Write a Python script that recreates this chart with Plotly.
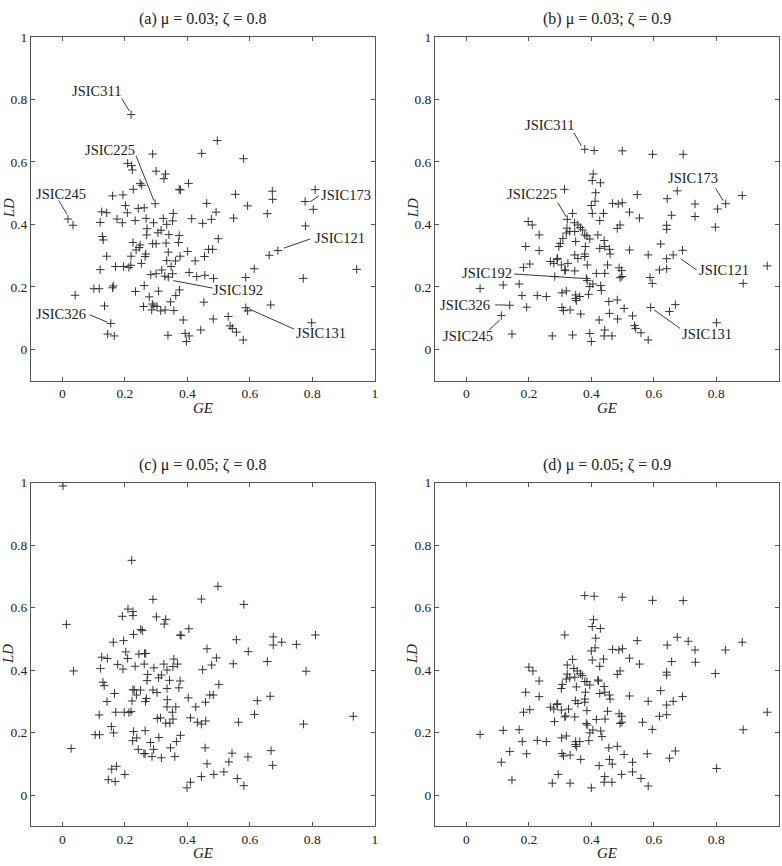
import plotly.graph_objects as go

# ---------------- data (GE, LD) ----------------
a_points = [
    (0.220, 0.751), (0.289, 0.625), (0.209, 0.595), (0.222, 0.588), (0.224, 0.574), (0.300, 0.570),
    (0.330, 0.561), (0.325, 0.546), (0.404, 0.531), (0.249, 0.531), (0.254, 0.525), (0.227, 0.512),
    (0.374, 0.512), (0.378, 0.510), (0.161, 0.491), (0.194, 0.494), (0.297, 0.466), (0.202, 0.460),
    (0.208, 0.437), (0.243, 0.451), (0.262, 0.453), (0.126, 0.440), (0.142, 0.437), (0.355, 0.435),
    (0.018, 0.417), (0.034, 0.397), (0.121, 0.406), (0.175, 0.417), (0.192, 0.405), (0.233, 0.412),
    (0.268, 0.419), (0.292, 0.405), (0.323, 0.419), (0.353, 0.411), (0.334, 0.400), (0.414, 0.418),
    (0.271, 0.386), (0.306, 0.373), (0.316, 0.381), (0.270, 0.366), (0.341, 0.367), (0.374, 0.364),
    (0.128, 0.361), (0.131, 0.350), (0.226, 0.342), (0.249, 0.334), (0.246, 0.326), (0.289, 0.338),
    (0.300, 0.338), (0.332, 0.340), (0.372, 0.342), (0.236, 0.318), (0.267, 0.305), (0.265, 0.297),
    (0.339, 0.311), (0.401, 0.313), (0.142, 0.298), (0.220, 0.298), (0.377, 0.298), (0.362, 0.283),
    (0.334, 0.284), (0.425, 0.283), (0.253, 0.275), (0.121, 0.255), (0.170, 0.265), (0.196, 0.265),
    (0.213, 0.262), (0.219, 0.269), (0.348, 0.265), (0.406, 0.246), (0.430, 0.233), (0.283, 0.239),
    (0.300, 0.242), (0.318, 0.254), (0.328, 0.234), (0.339, 0.231), (0.353, 0.242), (0.101, 0.194),
    (0.118, 0.194), (0.163, 0.203), (0.161, 0.197), (0.262, 0.204), (0.234, 0.185), (0.308, 0.186),
    (0.375, 0.190), (0.363, 0.172), (0.041, 0.173), (0.278, 0.168), (0.346, 0.152), (0.135, 0.139),
    (0.260, 0.137), (0.288, 0.145), (0.293, 0.139), (0.303, 0.137), (0.286, 0.126), (0.315, 0.123),
    (0.329, 0.126), (0.357, 0.124), (0.155, 0.083), (0.387, 0.094), (0.145, 0.049), (0.166, 0.043),
    (0.338, 0.045), (0.393, 0.051), (0.406, 0.043), (0.397, 0.025),
    (0.496, 0.668), (0.446, 0.627), (0.580, 0.610), (0.554, 0.496), (0.672, 0.506), (0.673, 0.480),
    (0.809, 0.511), (0.777, 0.473), (0.803, 0.448), (0.462, 0.467), (0.593, 0.459), (0.492, 0.439),
    (0.477, 0.416), (0.548, 0.420), (0.656, 0.434), (0.449, 0.403), (0.778, 0.395), (0.499, 0.354),
    (0.468, 0.320), (0.481, 0.320), (0.455, 0.297), (0.690, 0.316), (0.662, 0.301), (0.614, 0.258),
    (0.942, 0.256), (0.456, 0.237), (0.484, 0.227), (0.587, 0.230), (0.771, 0.227), (0.453, 0.151),
    (0.587, 0.133), (0.593, 0.123), (0.667, 0.142), (0.483, 0.097), (0.531, 0.105), (0.537, 0.075),
    (0.544, 0.067), (0.557, 0.055), (0.579, 0.030), (0.443, 0.062), (0.798, 0.085),
]

b_points = [
    (0.379, 0.640), (0.409, 0.636), (0.406, 0.561), (0.403, 0.540), (0.429, 0.533), (0.314, 0.512),
    (0.414, 0.501), (0.412, 0.474), (0.400, 0.460), (0.403, 0.435), (0.439, 0.435), (0.340, 0.435),
    (0.323, 0.416), (0.427, 0.412), (0.198, 0.409), (0.211, 0.398), (0.346, 0.405), (0.357, 0.398),
    (0.365, 0.390), (0.372, 0.382), (0.322, 0.388), (0.320, 0.372), (0.331, 0.377), (0.347, 0.377),
    (0.379, 0.366), (0.386, 0.363), (0.395, 0.353), (0.421, 0.366), (0.233, 0.366), (0.309, 0.355),
    (0.350, 0.345), (0.441, 0.348), (0.190, 0.329), (0.301, 0.339), (0.296, 0.329), (0.381, 0.329),
    (0.427, 0.323), (0.443, 0.329), (0.233, 0.316), (0.347, 0.302), (0.357, 0.291), (0.379, 0.297),
    (0.379, 0.305), (0.269, 0.281), (0.280, 0.275), (0.290, 0.288), (0.292, 0.291), (0.304, 0.270),
    (0.325, 0.275), (0.387, 0.270), (0.183, 0.262), (0.203, 0.273), (0.283, 0.233), (0.315, 0.252),
    (0.317, 0.254), (0.347, 0.251), (0.416, 0.243), (0.443, 0.243), (0.384, 0.227), (0.387, 0.220),
    (0.395, 0.201), (0.405, 0.209), (0.430, 0.204), (0.044, 0.195), (0.118, 0.206), (0.169, 0.209),
    (0.320, 0.187), (0.306, 0.181), (0.432, 0.188), (0.178, 0.172), (0.227, 0.172), (0.256, 0.169),
    (0.350, 0.174), (0.349, 0.163), (0.352, 0.156), (0.363, 0.169), (0.391, 0.176), (0.139, 0.141),
    (0.193, 0.135), (0.306, 0.134), (0.311, 0.124), (0.332, 0.126), (0.366, 0.113), (0.425, 0.094),
    (0.112, 0.108), (0.146, 0.049), (0.275, 0.043), (0.340, 0.046), (0.395, 0.051), (0.400, 0.025),
    (0.443, 0.062), (0.441, 0.043),
    (0.499, 0.635), (0.596, 0.624), (0.694, 0.624), (0.547, 0.495), (0.675, 0.507), (0.643, 0.482),
    (0.883, 0.492), (0.468, 0.467), (0.486, 0.465), (0.499, 0.469), (0.732, 0.465), (0.804, 0.449),
    (0.830, 0.466), (0.522, 0.439), (0.554, 0.420), (0.657, 0.429), (0.732, 0.425), (0.483, 0.387),
    (0.492, 0.398), (0.641, 0.397), (0.641, 0.384), (0.797, 0.391), (0.458, 0.320), (0.460, 0.305),
    (0.522, 0.318), (0.622, 0.337), (0.582, 0.302), (0.641, 0.290), (0.662, 0.302), (0.692, 0.317),
    (0.452, 0.270), (0.489, 0.261), (0.497, 0.252), (0.492, 0.229), (0.498, 0.233), (0.618, 0.254),
    (0.641, 0.258), (0.588, 0.230), (0.595, 0.211), (0.963, 0.267), (0.886, 0.211), (0.456, 0.153),
    (0.483, 0.158), (0.505, 0.131), (0.458, 0.115), (0.484, 0.097), (0.532, 0.107), (0.590, 0.134),
    (0.650, 0.121), (0.669, 0.143), (0.538, 0.076), (0.542, 0.067), (0.559, 0.053), (0.582, 0.030),
    (0.466, 0.043), (0.801, 0.085),
]

c_points = [
    (0.002, 0.989), (0.222, 0.751), (0.013, 0.546), (0.290, 0.626), (0.210, 0.595), (0.226, 0.587),
    (0.226, 0.574), (0.192, 0.572), (0.301, 0.570), (0.331, 0.562), (0.326, 0.547), (0.405, 0.532),
    (0.251, 0.530), (0.256, 0.526), (0.228, 0.514), (0.377, 0.512), (0.380, 0.511), (0.163, 0.489),
    (0.196, 0.494), (0.203, 0.458), (0.209, 0.437), (0.245, 0.451), (0.263, 0.453), (0.267, 0.453),
    (0.126, 0.441), (0.144, 0.437), (0.357, 0.435), (0.036, 0.397), (0.122, 0.405), (0.177, 0.418),
    (0.194, 0.403), (0.233, 0.412), (0.262, 0.419), (0.293, 0.407), (0.325, 0.419), (0.354, 0.411),
    (0.369, 0.419), (0.335, 0.400), (0.273, 0.386), (0.308, 0.375), (0.317, 0.384), (0.271, 0.366),
    (0.343, 0.367), (0.377, 0.365), (0.130, 0.361), (0.134, 0.350), (0.226, 0.337), (0.230, 0.336),
    (0.250, 0.336), (0.237, 0.320), (0.290, 0.336), (0.303, 0.328), (0.335, 0.341), (0.373, 0.343),
    (0.167, 0.325), (0.269, 0.309), (0.266, 0.299), (0.336, 0.305), (0.403, 0.311), (0.143, 0.299),
    (0.223, 0.301), (0.427, 0.282), (0.335, 0.282), (0.363, 0.282), (0.352, 0.265), (0.118, 0.256),
    (0.171, 0.265), (0.198, 0.265), (0.213, 0.264), (0.220, 0.267), (0.410, 0.247), (0.432, 0.233),
    (0.304, 0.245), (0.314, 0.247), (0.331, 0.230), (0.344, 0.230), (0.354, 0.243), (0.157, 0.219),
    (0.164, 0.199), (0.105, 0.193), (0.119, 0.193), (0.228, 0.203), (0.265, 0.206), (0.238, 0.183),
    (0.225, 0.174), (0.309, 0.184), (0.378, 0.191), (0.365, 0.171), (0.282, 0.168), (0.028, 0.149),
    (0.346, 0.151), (0.243, 0.146), (0.261, 0.133), (0.265, 0.132), (0.292, 0.146), (0.287, 0.123),
    (0.317, 0.119), (0.360, 0.123), (0.158, 0.083), (0.173, 0.092), (0.200, 0.066), (0.147, 0.049),
    (0.169, 0.043), (0.399, 0.023), (0.410, 0.041),
    (0.498, 0.668), (0.445, 0.627), (0.581, 0.610), (0.557, 0.497), (0.675, 0.506), (0.675, 0.480),
    (0.702, 0.489), (0.749, 0.482), (0.810, 0.512), (0.463, 0.468), (0.595, 0.459), (0.493, 0.439),
    (0.478, 0.416), (0.547, 0.420), (0.656, 0.427), (0.449, 0.401), (0.780, 0.396), (0.501, 0.354),
    (0.472, 0.320), (0.483, 0.320), (0.458, 0.297), (0.665, 0.316), (0.624, 0.302), (0.615, 0.258),
    (0.931, 0.252), (0.459, 0.237), (0.445, 0.227), (0.564, 0.233), (0.772, 0.227), (0.457, 0.151),
    (0.543, 0.134), (0.668, 0.142), (0.594, 0.122), (0.463, 0.100), (0.533, 0.106), (0.673, 0.095),
    (0.445, 0.059), (0.485, 0.066), (0.517, 0.074), (0.560, 0.053), (0.581, 0.030),
]

d_points = [
    (0.379, 0.638), (0.409, 0.636), (0.407, 0.561), (0.403, 0.539), (0.429, 0.533), (0.315, 0.512),
    (0.414, 0.502), (0.412, 0.471), (0.400, 0.461), (0.403, 0.432), (0.439, 0.435), (0.340, 0.434),
    (0.323, 0.416), (0.427, 0.412), (0.200, 0.409), (0.213, 0.397), (0.344, 0.405), (0.355, 0.397),
    (0.365, 0.388), (0.371, 0.382), (0.323, 0.387), (0.320, 0.371), (0.331, 0.375), (0.347, 0.377),
    (0.379, 0.363), (0.386, 0.363), (0.395, 0.352), (0.421, 0.368), (0.423, 0.365), (0.233, 0.365),
    (0.307, 0.354), (0.304, 0.341), (0.352, 0.346), (0.443, 0.329), (0.190, 0.329), (0.381, 0.329),
    (0.427, 0.325), (0.233, 0.315), (0.349, 0.302), (0.357, 0.293), (0.379, 0.307), (0.379, 0.297),
    (0.269, 0.281), (0.280, 0.275), (0.290, 0.290), (0.292, 0.292), (0.304, 0.272), (0.327, 0.275),
    (0.386, 0.270), (0.183, 0.265), (0.203, 0.273), (0.282, 0.235), (0.315, 0.250), (0.318, 0.253),
    (0.347, 0.250), (0.416, 0.242), (0.444, 0.243), (0.384, 0.229), (0.387, 0.224), (0.395, 0.199),
    (0.405, 0.208), (0.430, 0.205), (0.044, 0.194), (0.118, 0.207), (0.169, 0.209), (0.320, 0.189),
    (0.305, 0.183), (0.434, 0.187), (0.179, 0.171), (0.227, 0.175), (0.256, 0.171), (0.350, 0.171),
    (0.349, 0.162), (0.352, 0.155), (0.363, 0.171), (0.392, 0.174), (0.139, 0.139), (0.193, 0.132),
    (0.306, 0.133), (0.311, 0.125), (0.332, 0.128), (0.366, 0.114), (0.425, 0.094), (0.112, 0.105),
    (0.146, 0.048), (0.294, 0.066), (0.275, 0.038), (0.332, 0.038), (0.400, 0.023), (0.443, 0.059),
    (0.441, 0.041),
    (0.499, 0.633), (0.596, 0.623), (0.694, 0.622), (0.547, 0.494), (0.675, 0.505), (0.710, 0.492),
    (0.643, 0.480), (0.883, 0.489), (0.468, 0.466), (0.488, 0.464), (0.500, 0.468), (0.732, 0.464),
    (0.829, 0.464), (0.522, 0.438), (0.554, 0.419), (0.657, 0.427), (0.733, 0.425), (0.483, 0.386),
    (0.492, 0.397), (0.641, 0.393), (0.641, 0.384), (0.797, 0.389), (0.441, 0.347), (0.458, 0.320),
    (0.460, 0.307), (0.522, 0.317), (0.622, 0.334), (0.582, 0.300), (0.641, 0.288), (0.662, 0.300),
    (0.692, 0.315), (0.452, 0.268), (0.489, 0.260), (0.497, 0.252), (0.492, 0.229), (0.498, 0.233),
    (0.618, 0.252), (0.641, 0.257), (0.564, 0.233), (0.595, 0.210), (0.963, 0.265), (0.886, 0.209),
    (0.456, 0.151), (0.483, 0.156), (0.505, 0.130), (0.458, 0.114), (0.467, 0.099), (0.532, 0.105),
    (0.579, 0.132), (0.650, 0.118), (0.669, 0.141), (0.532, 0.074), (0.559, 0.053), (0.582, 0.029),
    (0.497, 0.066), (0.466, 0.041), (0.801, 0.085),
]

titles = ["(a) μ = 0.03; ζ = 0.8", "(b) μ = 0.03; ζ = 0.9",
          "(c) μ = 0.05; ζ = 0.8", "(d) μ = 0.05; ζ = 0.9"]
tick_vals = [0, 0.2, 0.4, 0.6, 0.8, 1]
tick_text = ["0", "0.2", "0.4", "0.6", "0.8", "1"]

# industry labels: (name, text_x, text_y, leader x0, y0, x1, y1) in data units
a_labels = [
    ("JSIC311", 0.108, 0.828, 0.190, 0.803, 0.214, 0.763),
    ("JSIC225", 0.153, 0.638, 0.236, 0.619, 0.293, 0.476),
    ("JSIC245", -0.005, 0.497, -0.011, 0.476, 0.014, 0.433),
    ("JSIC326", -0.005, 0.113, 0.089, 0.110, 0.144, 0.087),
    ("JSIC173", 0.908, 0.494, 0.793, 0.472, 0.821, 0.491),
    ("JSIC121", 0.888, 0.355, 0.709, 0.324, 0.793, 0.353),
    ("JSIC192", 0.563, 0.190, 0.355, 0.220, 0.481, 0.196),
    ("JSIC131", 0.827, 0.051, 0.598, 0.129, 0.741, 0.065),
]
b_labels = [
    ("JSIC311", 0.265, 0.718, 0.344, 0.693, 0.368, 0.651),
    ("JSIC225", 0.209, 0.496, 0.293, 0.469, 0.320, 0.424),
    ("JSIC192", 0.065, 0.245, 0.153, 0.241, 0.373, 0.227),
    ("JSIC326", -0.003, 0.142, 0.092, 0.142, 0.126, 0.142),
    ("JSIC245", 0.004, 0.043, 0.073, 0.062, 0.107, 0.094),
    ("JSIC173", 0.726, 0.547, 0.798, 0.515, 0.822, 0.476),
    ("JSIC121", 0.825, 0.254, 0.686, 0.290, 0.737, 0.254),
    ("JSIC131", 0.769, 0.048, 0.601, 0.126, 0.684, 0.067),
]

panels = [
    (titles[0], a_points, a_labels),
    (titles[1], b_points, b_labels),
    (titles[2], c_points, []),
    (titles[3], d_points, []),
]

# ---------------- layout ----------------
W, H = 782, 866
boxes = [(31.1, 374.8, 36.8, 380.6), (435.1, 778.8, 36.8, 380.6),
         (31.1, 374.8, 482.5, 826.3), (435.1, 778.8, 482.5, 826.3)]
SERIF = "Liberation Serif, Times New Roman, serif"
AXCOL = "#555555"
TXT = "#222222"

fig = go.Figure()
annotations = []
shapes = []

for i, ((title, pts, labels), (x0, x1, y0, y1)) in enumerate(zip(panels, boxes)):
    n = "" if i == 0 else str(i + 1)
    xs = [p[0] for p in pts]
    ys = [p[1] for p in pts]
    fig.add_trace(go.Scatter(
        x=xs, y=ys, mode="markers", xaxis="x" + n, yaxis="y" + n,
        marker=dict(symbol="cross-thin", size=6, color="#333333",
                    line=dict(width=1, color="#333333")),
        showlegend=False, hoverinfo="x+y"))
    axcommon = dict(range=[-0.1, 1], tickvals=tick_vals, ticktext=tick_text,
                    ticks="inside", ticklen=4, tickwidth=1, tickcolor=AXCOL,
                    showline=True, linecolor=AXCOL, linewidth=1.2, mirror="ticks",
                    showgrid=False, zeroline=False, automargin=False,
                    tickfont=dict(family=SERIF, size=13.5, color=TXT), fixedrange=True)
    fig.update_layout(**{
        "xaxis" + n: dict(domain=[x0 / W, x1 / W], anchor="y" + n, **axcommon),
        "yaxis" + n: dict(domain=[1 - y1 / H, 1 - y0 / H], anchor="x" + n, **axcommon),
    })
    cx = (x0 + x1) / 2
    cy = (y0 + y1) / 2
    annotations.append(dict(text=title, x=cx / W, y=1 - (y0 - 17.5) / H, xref="paper", yref="paper",
                            showarrow=False, xanchor="center", yanchor="middle",
                            font=dict(family=SERIF, size=16, color=TXT)))
    annotations.append(dict(text="<i>GE</i>", x=cx / W, y=1 - (y1 + 27) / H, xref="paper", yref="paper",
                            showarrow=False, xanchor="center", yanchor="middle",
                            font=dict(family=SERIF, size=15, color=TXT)))
    annotations.append(dict(text="<i>LD</i>", x=(x0 - 22.5) / W, y=1 - cy / H, xref="paper", yref="paper",
                            showarrow=False, xanchor="center", yanchor="middle", textangle=-90,
                            font=dict(family=SERIF, size=15, color=TXT)))
    for name, tx, ty, lx0, ly0, lx1, ly1 in labels:
        annotations.append(dict(text=name, x=tx, y=ty, xref="x" + n, yref="y" + n,
                                showarrow=False, xanchor="center", yanchor="middle",
                                font=dict(family=SERIF, size=14.5, color=TXT)))
        shapes.append(dict(type="line", xref="x" + n, yref="y" + n,
                           x0=lx0, y0=ly0, x1=lx1, y1=ly1,
                           line=dict(color=TXT, width=0.9)))

fig.update_layout(width=W, height=H, margin=dict(l=0, r=0, t=0, b=0),
                  paper_bgcolor="white", plot_bgcolor="white",
                  annotations=annotations, shapes=shapes, template="none")

fig.write_html("out.html")
